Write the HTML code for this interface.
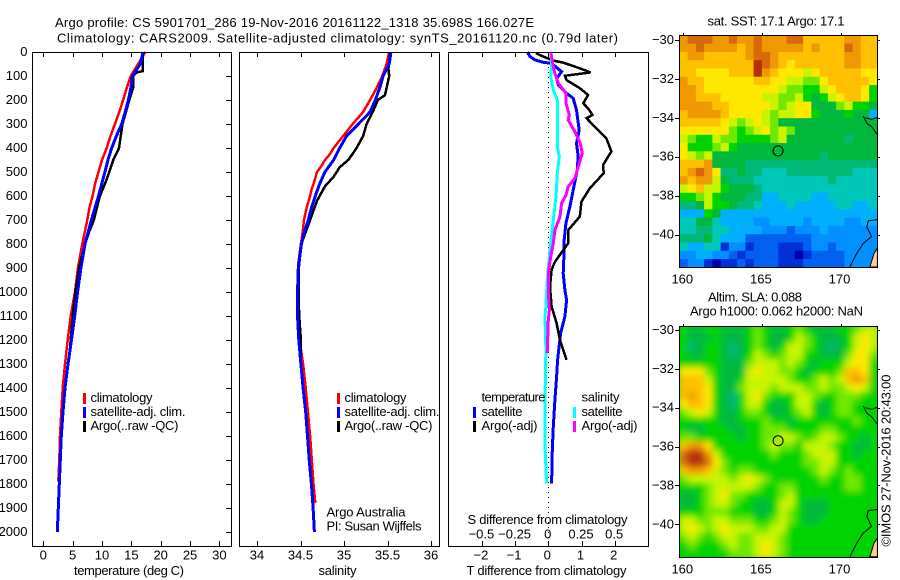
<!DOCTYPE html>
<html lang="en">
<head>
<meta charset="utf-8">
<title>Argo profile</title>
<style>
html,body{margin:0;padding:0;background:#fff;}
svg{display:block;font-family:"Liberation Sans",sans-serif;font-size:13px;fill:#000;}
</style>
</head>
<body>
<svg id="chart" xmlns="http://www.w3.org/2000/svg" width="900" height="580" viewBox="0 0 900 580">
  <defs>
    <clipPath id="clip-sst"><rect x="679" y="35" width="198" height="232"/></clipPath>
    <clipPath id="clip-sla"><rect x="679" y="326" width="198" height="231"/></clipPath>
    <filter id="smooth-sla" filterUnits="userSpaceOnUse" x="640" y="290" width="270" height="300"><feGaussianBlur stdDeviation="3.2"/></filter>
  </defs>
  <text x="55" y="27" textLength="479">Argo profile: CS 5901701_286 19-Nov-2016 20161122_1318 35.698S 166.027E</text>
  <text x="57" y="42.5" textLength="561">Climatology: CARS2009. Satellite-adjusted climatology: synTS_20161120.nc (0.79d later)</text>

  <g id="panel-t"></g>
  <g id="panel-s"></g>
  <g id="panel-d"></g>
  <g id="map-sst"></g>
  <g id="map-sla"></g>

  <text x="74" y="575" textLength="110">temperature (deg C)</text>
  <text x="318.5" y="575" textLength="38">salinity</text>
  <text x="466.5" y="575" textLength="160">T difference from climatology</text>
  <text x="467.5" y="524" textLength="160">S difference from climatology</text>

  <g>
    <rect x="83" y="393" width="3" height="11" fill="#f00"/>
    <rect x="83" y="407" width="3" height="11" fill="#00f"/>
    <rect x="83" y="421" width="3" height="11" fill="#000"/>
    <text x="90.5" y="402" textLength="62">climatology</text>
    <text x="90.5" y="416" textLength="95">satellite-adj. clim.</text>
    <text x="90.5" y="430" textLength="88">Argo(..raw -QC)</text>
  </g>
  <g>
    <rect x="337" y="393" width="3" height="11" fill="#f00"/>
    <rect x="337" y="407" width="3" height="11" fill="#00f"/>
    <rect x="337" y="421" width="3" height="11" fill="#000"/>
    <text x="344.5" y="402" textLength="62">climatology</text>
    <text x="344.5" y="416" textLength="95">satellite-adj. clim.</text>
    <text x="344.5" y="430" textLength="88">Argo(..raw -QC)</text>
    <text x="326.5" y="516.5" textLength="79">Argo Australia</text>
    <text x="326.5" y="530.5" textLength="95">PI: Susan Wijffels</text>
  </g>
  <g>
    <text x="481.5" y="401.5" textLength="64">temperature</text>
    <text x="481.5" y="416" textLength="41">satellite</text>
    <text x="481.5" y="430" textLength="56">Argo(-adj)</text>
    <rect x="473" y="407" width="3" height="11" fill="#00f"/>
    <rect x="473" y="421" width="3" height="11" fill="#000"/>
    <text x="581.5" y="401.5" textLength="38">salinity</text>
    <text x="581.5" y="416" textLength="41">satellite</text>
    <text x="581.5" y="430" textLength="56">Argo(-adj)</text>
    <rect x="573" y="407" width="3" height="11" fill="#0ff"/>
    <rect x="573" y="421" width="3" height="11" fill="#f0f"/>
  </g>

  <text x="707.5" y="25.5" textLength="137">sat. SST: 17.1 Argo: 17.1</text>
  <text x="708" y="301.5" textLength="94">Altim. SLA: 0.088</text>
  <text x="690" y="315.5" textLength="173">Argo h1000: 0.062 h2000: NaN</text>
  <text transform="translate(890.5,546.5) rotate(-90)" textLength="172">©IMOS 27-Nov-2016 20:43:00</text>
</svg>
<script>
// ---------- tick labels ----------
const depthTicks = [0,100,200,300,400,500,600,700,800,900,1000,1100,1200,1300,1400,1500,1600,1700,1800,1900,2000];
const tempTicks = [0,5,10,15,20,25,30];
const salTicks = [34,34.5,35,35.5,36];
const tDiffTicks = [-2,-1,0,1,2];
const sDiffTicks = [-0.5,-0.25,0,0.25,0.5];
const lonTicks = [160,165,170];
const latTicks = [-30,-32,-34,-36,-38,-40];

// ---------- temperature profiles ----------
const tClimDepth = [0,60,100,150,200,250,300,350,400,450,500,550,600,650,700,800,900,1000,1100,1200,1300,1400,1500,1600,1700,1790];
const tClimValue = [17.4,15.9,14.9,14.2,13.6,12.95,12.2,11.45,10.8,10.0,9.4,8.8,8.4,7.85,7.5,6.65,5.9,5.4,4.66,4.15,3.7,3.3,3.07,2.84,2.73,2.56];
const tSatDepth = [0,50,100,150,200,250,300,350,400,450,500,550,600,700,800,900,1000,1100,1200,1300,1400,1500,1600,1700,1800,1900,2000];
const tSatValue = [17.0,16.5,15.2,14.9,14.5,13.95,13.35,12.45,11.65,11.0,10.5,9.95,9.4,8.2,7.1,6.4,5.85,5.35,4.8,4.2,3.7,3.35,3.07,2.9,2.73,2.56,2.39];
const tArgoDepth = [0,80,85,100,150,200,300,400,450,500,550,600,700,750,800,900,1000,1100,1200,1290];
const tArgoValue = [16.9,16.9,15.9,15.3,15.3,14.65,13.5,12.9,11.9,11.25,10.5,9.65,8.6,7.8,7.1,6.1,5.45,5.0,4.66,4.35];

// ---------- salinity profiles ----------
const sClimDepth = [0,50,100,150,200,250,300,350,400,425,450,475,500,525,550,575,600,650,700,750,800,880,1000,1100,1200,1300,1400,1500,1600,1700,1800,1880];
const sClimValue = [35.52,35.49,35.44,35.375,35.3,35.22,35.1,34.99,34.88,34.84,34.78,34.74,34.69,34.67,34.65,34.625,34.61,34.57,34.54,34.525,34.505,34.475,34.465,34.475,34.49,34.53,34.56,34.585,34.61,34.63,34.65,34.67];
const sSatDepth = [0,50,100,150,200,250,300,350,400,450,500,550,600,650,700,750,800,900,1000,1100,1200,1300,1400,1500,1600,1700,1800,1900,2000];
const sSatValue = [35.54,35.52,35.45,35.41,35.36,35.3,35.165,35.03,34.95,34.88,34.78,34.72,34.67,34.625,34.59,34.545,34.51,34.475,34.465,34.465,34.48,34.505,34.53,34.56,34.58,34.6,34.625,34.645,34.66];
const sArgoDepth = [0,70,100,150,180,200,250,300,350,400,450,480,520,560,620,700,750,800,900,1050,1100,1200,1290];
const sArgoValue = [35.53,35.51,35.52,35.49,35.47,35.39,35.33,35.26,35.22,35.145,35.05,34.95,34.88,34.78,34.69,34.61,34.56,34.51,34.48,34.48,34.485,34.505,34.5];

// ---------- difference profiles ----------
const dTSatDepth = [0,19,33,43,47,82,110,137,172,193,242,325,380,436,492,575,644,714,783,853,922,992,1033,1102,1172,1283,1353,1450,1561,1658,1797];
const dTSatValue = [-0.63,-0.55,-0.4,-0.15,0.1,0.4,0.25,0.3,0.55,0.75,0.85,0.93,0.85,0.9,0.87,0.75,0.65,0.53,0.48,0.47,0.45,0.5,0.55,0.5,0.37,0.28,0.25,0.2,0.15,0.12,0.1];
const dTArgoDepth = [5,19,36,44,68,85,99,117,151,179,214,235,262,276,318,360,415,436,471,505,568,623,686,742,797,874,908,978,1061,1130,1200,1283];
const dTArgoValue = [-0.37,-0.15,0.15,0.45,0.95,1.27,0.5,0.55,0.95,1.2,1.05,1.2,1.33,1.15,1.45,1.75,1.9,1.8,1.65,1.67,1.25,1.0,0.95,0.6,0.6,0.2,0.1,0.05,0.1,0.25,0.35,0.55];
const dSSatDepth = [5,47,103,158,200,255,325,394,436,505,603,700,783,867,950,1061,1102,1241,1450,1644,1797];
const dSSatValue = [0.02,0.025,0.018,0.038,0.068,0.07,0.068,0.068,0.083,0.068,0.058,0.038,0.02,0.005,-0.008,-0.018,-0.025,-0.018,-0.025,-0.025,-0.013];
const dSArgoDepth = [5,61,89,130,172,214,262,283,332,380,422,478,526,561,596,630,686,742,797,853,922,1005,1075,1116,1255];
const dSArgoValue = [0.02,0.038,0.05,0.075,0.133,0.133,0.158,0.15,0.2,0.24,0.256,0.226,0.2,0.15,0.133,0.1,0.088,0.05,0.038,0.018,0,0,0.008,0,-0.008];

// ---------- gridded map values: each char is a colour class 0 (cold/low) .. f (warm/high) ----------
const sstRows = [
"deeeddeddedddeecccccddcc",
"ddeddddcdedddddcdcccedcc",
"cddcccccdeedccccccccddcc",
"cccccccccfedcbccccccddcc",
"ccbbbbcccfdcbbbabcccccbb",
"dccbbbbbbccbbaa99bcccccb",
"ddcbbbbbbbbba9988abcccb8",
"ddcccbbbbbaa99a878abccb8",
"ddddccbbbbba9abb7779a887",
"cddddcbbbba9aabb87778774",
"cccccba9aba9777777777777",
"bbbbbb989ab9a97777777777",
"a988a9988889a77777776777",
"b8889a877777777777777777",
"ba9a77777777777776777777",
"cccd77776666666666666666",
"cdedb6676655566666666555",
"dcdda7666555555555655555",
"abcaa8777655555555555555",
"889a87776644555544555555",
"667a88766544454444455445",
"444874444444444444444444",
"557754444334444344443344",
"556655444433323334333333",
"666754442222222233333333",
"544551331222111233233333",
"334433212222110122223333",
"233101121222111222223333"
];
const slaRows = [
"87788777898778987778"+"89aa",
"87778777898778a98777"+"8aba",
"86788767898 78aa98767".replace(" ","")+"8aba",
"877887678a989aa88777"+"9bb9",
"888887779aaa9a987888"+"abb8",
"bbb98777abaa99878889"+"ccb8",
"ccca8778aaaaa9889a9a"+"cdc8",
"cccb8779aaa9aaa99a99"+"aba8",
"cdcb8768ab9888aa9889"+"9988",
"bccb8768aa8778aa8789"+"9888",
"9aba87789987789a8789"+"9888",
"88888778889887888888"+"8988",
"87788877889998888998"+"8888",
"998888878899aa989aa98"+"878",
"cddb8888889a998aaa98"+"8778",
"effda888888988 89aaa8".replace(" ","")+"8788",
"effeb988888888899aa8"+"8888",
"cddca9899888888 89a98".replace(" ","")+"9888",
"9aaaaa9aba9888888988"+"9988",
"8889aaaaa98899888888"+"9988",
"7789ab9988889a888888"+"8888",
"7789aa988778aa877788"+"8888",
"88899988877 8a9877788".replace(" ","")+"8888",
"aa99aa999889a9877888"+"8888",
"aba9abaaa99aa8888888"+"8888",
"9a989aa99aaa98888888"+"8888",
"898889a99aba98888888"+"8888",
"888888999aba98888888"+"8888"
];
const paletteColours = ["#0000a8","#0030d8","#0060f0","#0090ff","#00b0ff","#00c8b8","#00b878","#00b83c","#00d400","#70e800","#c8f400","#ffe800","#ffc000","#f09800","#d86808","#b43008"];

// ---------- coast, land, float position (lon/lat) ----------
const coastNorthLon = [171.45,171.67,171.98,172.32];
const coastNorthLat = [-33.91,-34.28,-34.46,-34.83];
const coastBranchLon = [171.6,171.98,172.35];
const coastBranchLat = [-34.0,-34.08,-33.98];
const coastSouthLon = [172.35,171.77,171.67,171.98,171.45,171.03,170.6];
const coastSouthLat = [-39.24,-39.29,-39.6,-40.11,-40.45,-40.97,-41.66];
const landLon = [171.87,172.13,172.35,172.35];
const landLat = [-41.67,-40.97,-40.71,-41.67];
const floatLon = 166.03;
const floatLat = -35.7;

// ---------- scales ----------
const NS = "http://www.w3.org/2000/svg";
const yDepth = d => 52 + d * 0.24;
const xTemp = t => 43.3 + t * 5.87;
const xSal = s => 257 + (s - 34) * 87;
const xTDiff = t => 548.3 + t * 33.2;
const xSDiff = s => 548.3 + s * 132.8;
const xLon = lon => 683.3 + (lon - 160) * 15.72;
const ySst = lat => 40 + (-30 - lat) * 19.45;
const ySla = lat => 330 + (-30 - lat) * 19.43;

function make(parent, tag, attrs, text) {
  const el = document.createElementNS(NS, tag);
  for (const k in attrs) el.setAttribute(k, attrs[k]);
  if (text !== undefined) el.textContent = text;
  parent.appendChild(el);
  return el;
}
function tickPath(parent, d) {
  const el = make(parent, "path", {d: d, stroke: "#000", "stroke-width": 1, fill: "none", "shape-rendering": "crispEdges"});
  return el;
}
function fmt(v) { return String(v).replace("-", "\u2212"); }

function profile(parent, depths, values, xScale, colour, width) {
  const pts = depths.map((d, i) => xScale(values[i]).toFixed(1) + "," + yDepth(d).toFixed(1)).join(" ");
  return make(parent, "polyline", {points: pts, fill: "none", stroke: colour, "stroke-width": width, "stroke-linejoin": "miter", "shape-rendering": "crispEdges"});
}

function frame(parent, x, y, w, h) {
  const r = make(parent, "rect", {x: x + 0.5, y: y + 0.5, width: w, height: h, fill: "none", stroke: "#000", "stroke-width": 1, "shape-rendering": "crispEdges"});
  return r;
}

// ---------- temperature panel ----------
const pT = document.getElementById("panel-t");
let d1 = "";
tempTicks.forEach(t => {
  const x = Math.round(xTemp(t)) + 0.5;
  d1 += `M${x} 52V57M${x} 546V541`;
  const lab = make(pT, "text", {x: xTemp(t), y: 559.5, "text-anchor": "middle"}, fmt(t));
  
  
});
depthTicks.forEach(d => {
  const y = Math.round(yDepth(d)) + 0.5;
  d1 += `M231 ${y}H226`;
  const lab = make(pT, "text", {x: 27.5, y: yDepth(d) + 4, "text-anchor": "end"}, String(d));
  
  
});
const pTt = tickPath(pT, d1);


const tRed = profile(pT, tClimDepth, tClimValue, xTemp, "#f00", 2.5);


const tBlack = profile(pT, tArgoDepth, tArgoValue, xTemp, "#000", 2.5);


const tBlue = profile(pT, tSatDepth, tSatValue, xTemp, "#00f", 3);


const pTf = frame(pT, 32, 52, 199, 494);



// ---------- salinity panel ----------
const pS = document.getElementById("panel-s");
let d2 = "";
salTicks.forEach(s => {
  const x = Math.round(xSal(s)) + 0.5;
  d2 += `M${x} 52V57M${x} 546V541`;
  const lab = make(pS, "text", {x: xSal(s), y: 559.5, "text-anchor": "middle"}, fmt(s));
  
  
});
const pSt = tickPath(pS, d2);


const sRed = profile(pS, sClimDepth, sClimValue, xSal, "#f00", 2.5);


const sBlack = profile(pS, sArgoDepth, sArgoValue, xSal, "#000", 2.5);


const sBlue = profile(pS, sSatDepth, sSatValue, xSal, "#00f", 3);


const pSf = frame(pS, 239, 52, 200, 494);



// ---------- difference panel ----------
const pD = document.getElementById("panel-d");
let d3 = "";
tDiffTicks.forEach(t => {
  const x = Math.round(xTDiff(t)) + 0.5;
  d3 += `M${x} 52V57M${x} 546V541`;
  const lab = make(pD, "text", {x: xTDiff(t) - 1, y: 559.5, "text-anchor": "middle"}, fmt(t));
  
  
});
sDiffTicks.forEach(s => {
  const lab = make(pD, "text", {x: xSDiff(s) - 0.5, y: 538.5, "text-anchor": "middle"}, fmt(s));
  
  
});
const pDt = tickPath(pD, d3);


const zeroLine = make(pD, "line", {x1: 548.5, x2: 548.5, y1: 52, y2: 546, stroke: "#000", "stroke-width": 1, "stroke-dasharray": "1 4", "shape-rendering": "crispEdges"});


const dTSat = profile(pD, dTSatDepth, dTSatValue, xTDiff, "#00f", 3);


const dTArgo = profile(pD, dTArgoDepth, dTArgoValue, xTDiff, "#000", 2.5);


const dSSat = profile(pD, dSSatDepth, dSSatValue, xSDiff, "#0ff", 3);


const dSArgo = profile(pD, dSArgoDepth, dSArgoValue, xSDiff, "#f0f", 3);


const pDf = frame(pD, 448, 52, 200, 494);



// ---------- maps ----------
function polyIn(parent, lons, lats, yScale, attrs) {
  const pts = lons.map((lon, i) => xLon(lon).toFixed(1) + "," + yScale(lats[i]).toFixed(1)).join(" ");
  attrs.points = pts;
  return make(parent, attrs.fill === "none" ? "polyline" : "polygon", attrs);
}
function drawMap(groupId, rows, yScale, clipId, top, height, lonStart, latStart, smooth) {
  const g = document.getElementById(groupId);
  const inner = make(g, "g", {"clip-path": `url(#${clipId})`});
  const cells = make(inner, "g", smooth ? {filter: "url(#smooth-sla)"} : {});
  
  
  if (smooth) {
    const under = make(cells, "rect", {x: 660, y: 306, width: 240, height: 270, fill: paletteColours[8]});
    
    
  }
  const dLon = 198 / 24 / 15.72;
  const dLat = 232 / 28 / 19.45;
  rows.forEach((row, r) => {
    [...row].forEach((ch, c) => {
      const x0 = xLon(lonStart + c * dLon);
      const x1 = xLon(lonStart + (c + 1) * dLon);
      const y0 = yScale(latStart - r * dLat);
      const y1 = yScale(latStart - (r + 1) * dLat);
      const cell = make(cells, "rect", {x: x0.toFixed(2), y: y0.toFixed(2), width: (x1 - x0 + 0.6).toFixed(2), height: (y1 - y0 + 0.6).toFixed(2), fill: paletteColours[parseInt(ch, 16)]});
      
      
    });
  });
  const land = polyIn(inner, landLon, landLat, yScale, {fill: "#ffcc99", stroke: "#000", "stroke-width": 1});
  
  
  const c1 = polyIn(inner, coastNorthLon, coastNorthLat, yScale, {fill: "none", stroke: "#000", "stroke-width": 1});
  
  
  const c2 = polyIn(inner, coastBranchLon, coastBranchLat, yScale, {fill: "none", stroke: "#000", "stroke-width": 1});
  
  
  const c3 = polyIn(inner, coastSouthLon, coastSouthLat, yScale, {fill: "none", stroke: "#000", "stroke-width": 1});
  
  
  const marker = make(g, "circle", {cx: xLon(floatLon), cy: yScale(floatLat), r: 5, fill: "none", stroke: "#000", "stroke-width": 1});
  
  
  const f = frame(g, 679, top, 198, height);
  
  
  let d = "";
  const bottom = top + height;
  lonTicks.forEach(lon => {
    const x = Math.round(xLon(lon)) + 0.5;
    d += `M${x} ${top}V${top - 2}`;
    const lab = make(g, "text", {x: xLon(lon) - 1, y: bottom + 16.5, "text-anchor": "middle"}, String(lon));
    
    
  });
  latTicks.forEach(lat => {
    const y = Math.round(yScale(lat)) + 0.5;
    d += `M679 ${y}H675M877 ${y}H880`;
    const lab = make(g, "text", {x: 674, y: yScale(lat) + 4, "text-anchor": "end"}, fmt(lat));
    
    
  });
  const t = tickPath(g, d);
  
  
}
drawMap("map-sst", sstRows, ySst, "clip-sst", 35, 232, 159.75, -29.76, false);
drawMap("map-sla", slaRows, ySla, "clip-sla", 326, 231, 159.75, -29.78, true);
</script>
</body>
</html>
